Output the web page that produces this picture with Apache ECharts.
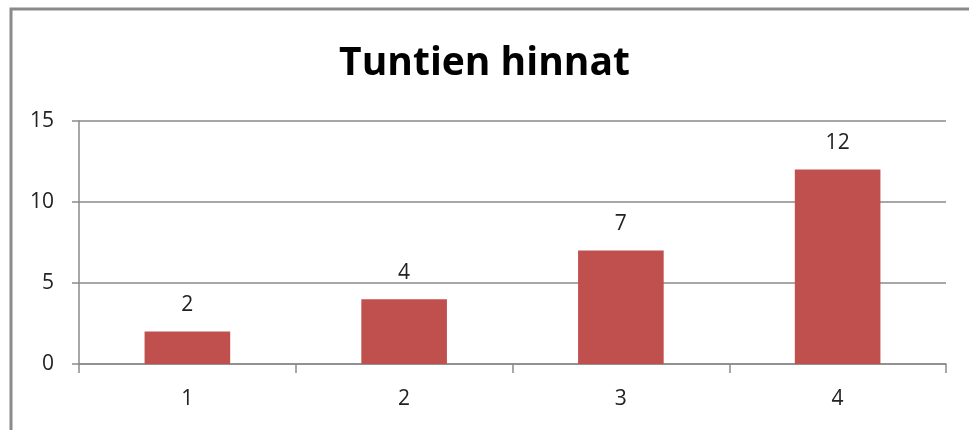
<!DOCTYPE html>
<html><head><meta charset="utf-8">
<script src="https://cdn.jsdelivr.net/npm/echarts@6/dist/echarts.min.js"></script>
<style>html,body{margin:0;padding:0;background:#fff;overflow:hidden}#c{width:969px;height:430px}</style>
</head><body><div id="c"></div>
<script>
const titleText = 'Tuntien hinnat';
const categories = ['1', '2', '3', '4'];
const values = [2, 4, 7, 12];
const yTicks = [0, 5, 10, 15];

const chart = echarts.init(document.getElementById('c'), null, {renderer: 'canvas'});
const font = '"Open Sans", "Liberation Sans", sans-serif';
chart.setOption({
  animation: false,
  backgroundColor: '#fff',
  title: {
    text: titleText, left: 'center', top: 39,
    textStyle: {fontFamily: font, fontWeight: 'bold', fontSize: 39, color: '#000'}
  },
  graphic: [{
    type: 'polyline', shape: {points: [[11, 440], [11, 9], [980, 9]]},
    style: {fill: 'none', stroke: '#8a8a8a', lineWidth: 3}, silent: true
  }],
  grid: {left: 79, right: 23, top: 121, bottom: 66},
  xAxis: {
    type: 'category', data: categories,
    axisLine: {lineStyle: {color: '#8a8a8a', width: 1.5}},
    axisTick: {show: true, length: 9, alignWithLabel: false, lineStyle: {color: '#8a8a8a', width: 1.5}},
    axisLabel: {fontFamily: font, fontSize: 21, color: '#222', margin: 25}
  },
  yAxis: {
    type: 'value', min: yTicks[0], max: yTicks[yTicks.length - 1], interval: 5,
    axisLine: {show: true, lineStyle: {color: '#8a8a8a', width: 1.5}},
    axisTick: {show: true, length: 7, lineStyle: {color: '#8a8a8a', width: 1.5}},
    splitLine: {lineStyle: {color: '#8a8a8a', width: 1.5}},
    axisLabel: {fontFamily: font, fontSize: 21, color: '#222', margin: 25}
  },
  series: [{
    type: 'bar', data: values, barWidth: '39.5%',
    itemStyle: {color: '#C0504D'},
    label: {show: true, position: 'top', distance: 16, fontFamily: font, fontSize: 21, color: '#222'}
  }]
});
</script></body></html>
